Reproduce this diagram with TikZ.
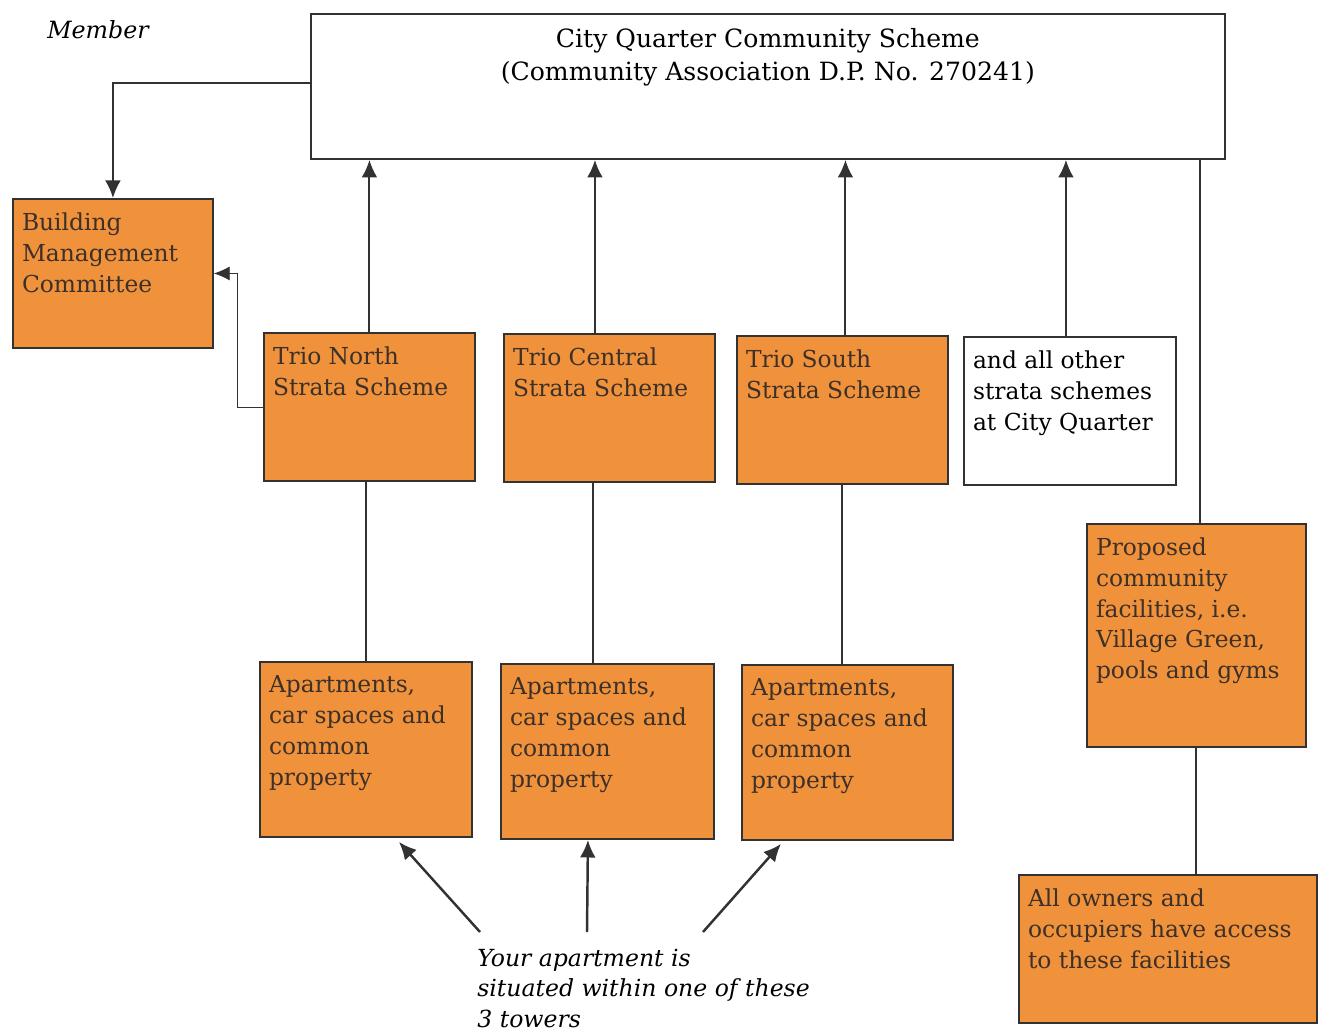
\documentclass[tikz,border=0pt]{standalone}
\usepackage{fontspec}
\setmainfont{DejaVu Serif}
\usetikzlibrary{arrows.meta}
\definecolor{boxorange}{RGB}{240,146,60}
\definecolor{edgegray}{RGB}{50,50,50}
\definecolor{inkbrown}{RGB}{60,48,40}
\begin{document}
\begin{tikzpicture}[x=0.02cm,y=-0.02cm,font=\fontsize{13.3}{17.5}\selectfont,
    box/.style={draw=edgegray,line width=1.1pt,fill=boxorange,anchor=north west,inner sep=0pt},
    whitebox/.style={box,fill=white},
    boxtext/.style={anchor=north west,align=left,inner xsep=5.5pt,inner ysep=8.2pt,text=inkbrown,label distance=0pt},
    link/.style={draw=edgegray,line width=1.1pt},
    uparrow/.style={link,-{Latex[length=10pt,width=9pt]}},
    thinlink/.style={draw=edgegray,line width=0.5pt,-{Latex[length=9pt,width=8pt]}}]
    \useasboundingbox (0,0) rectangle (1322,1034);
    % top of the scheme
    \node [whitebox,minimum width=18.28cm,minimum height=2.9cm,
        label={[anchor=north,align=center,inner sep=0pt,yshift=-0.3cm,font=\fontsize{14.3}{18.8}\selectfont]north:{City Quarter Community Scheme\\(Community Association D.P. No. 270241)}}]
        (cq) at (310,13) {};
    \node [font=\itshape\fontsize{13.5}{17}\selectfont] (member) at (98,30) {Member};
    \node [box,minimum width=4cm,minimum height=2.98cm,
        label={[boxtext]north west:{Building\\Management\\Committee}}] (bmc) at (12,198) {};
    % strata schemes
    \node [box,minimum width=4.22cm,minimum height=2.96cm,
        label={[boxtext]north west:{Trio North\\Strata Scheme}}] (tn) at (263,332) {};
    \node [box,minimum width=4.22cm,minimum height=2.96cm,
        label={[boxtext]north west:{Trio Central\\Strata Scheme}}] (tc) at (503,333) {};
    \node [box,minimum width=4.22cm,minimum height=2.96cm,
        label={[boxtext]north west:{Trio South\\Strata Scheme}}] (ts) at (736,335) {};
    \node [whitebox,minimum width=4.24cm,minimum height=2.96cm,
        label={[boxtext,text=black]north west:{and all other\\strata schemes\\at City Quarter}}] (other) at (963,336) {};
    \node [box,minimum width=4.38cm,minimum height=4.46cm,
        label={[boxtext]north west:{Proposed\\community\\facilities, i.e.\\Village Green,\\pools and gyms}}] (pf) at (1086,523) {};
    % lots
    \node [box,minimum width=4.24cm,minimum height=3.5cm,
        label={[boxtext]north west:{Apartments,\\car spaces and\\common\\property}}] (a1) at (259,661) {};
    \node [box,minimum width=4.26cm,minimum height=3.5cm,
        label={[boxtext]north west:{Apartments,\\car spaces and\\common\\property}}] (a2) at (500,663) {};
    \node [box,minimum width=4.22cm,minimum height=3.5cm,
        label={[boxtext]north west:{Apartments,\\car spaces and\\common\\property}}] (a3) at (741,664) {};
    \node [box,minimum width=5.96cm,minimum height=2.96cm,
        label={[boxtext]north west:{All owners and\\occupiers have access\\to these facilities}}] (ao) at (1018,874) {};
    \node [anchor=north west,align=left,inner sep=0pt,font=\itshape\fontsize{13.4}{17.2}\selectfont]
        (note) at (477,949) {Your apartment is\\situated within one of these\\3 towers};
    \coordinate (n1) at (480,932);
    \coordinate (n2) at (587,932);
    \coordinate (n3) at (703,932);
    % connectors
    \draw [uparrow] ([yshift=0.06cm]cq.west) -| (bmc.north);
    \draw [uparrow] (tn.north) -- (tn.north |- cq.south);
    \draw [uparrow] ([xshift=-0.29cm]tc.north) -- ([xshift=-0.29cm]tc.north |- cq.south);
    \draw [uparrow] ([xshift=0.06cm]ts.north) -- ([xshift=0.06cm]ts.north |- cq.south);
    \draw [uparrow] ([xshift=-0.08cm]other.north) -- ([xshift=-0.08cm]other.north |- cq.south);
    \draw [link] ([xshift=0.08cm]pf.north) -- ([xshift=0.08cm]pf.north |- cq.south);
    \draw [link] (pf.south) -- (pf.south |- ao.north);
    \draw [link] (a1.north) -- (a1.north |- tn.south);
    \draw [link] ([xshift=-0.29cm]a2.north) -- ([xshift=-0.29cm]a2.north |- tc.south);
    \draw [link] (ts.south) -- (ts.south |- a3.north);
    \draw [thinlink] (tn.west) -- ++(-26,0) |- (bmc.east);
    \draw [uparrow,line width=1.4pt] (n1) -- ([xshift=0.66cm,yshift=-0.08cm]a1.south);
    \draw [uparrow,line width=1.4pt] (n2) -- ([xshift=-0.39cm]a2.south);
    \draw [uparrow,line width=1.4pt] (n3) -- ([xshift=-1.33cm,yshift=-0.06cm]a3.south);
\end{tikzpicture}
\end{document}
